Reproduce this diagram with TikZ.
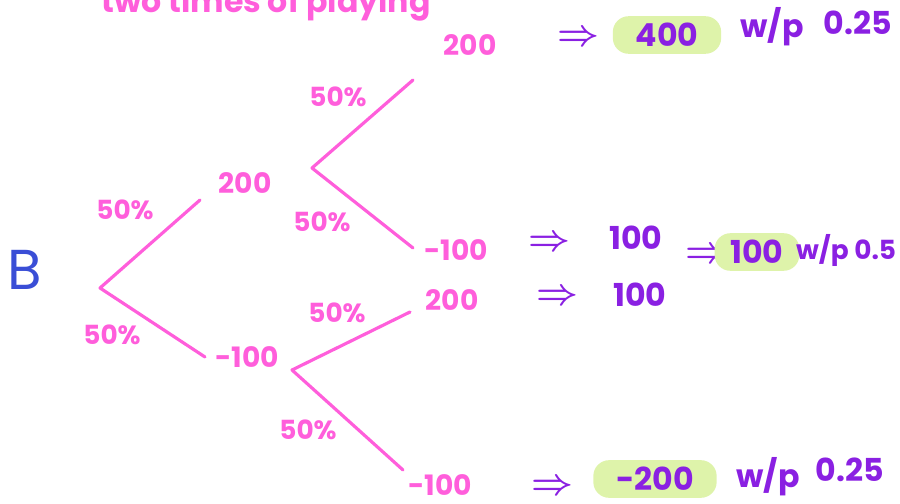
\documentclass[tikz,border=0pt]{standalone}
\usepackage{fontspec}
\setmainfont{Poppins}
\usepackage{xcolor}
\usetikzlibrary{positioning}
\definecolor{penpink}{RGB}{255,94,219}
\definecolor{penpurple}{RGB}{138,32,226}
\definecolor{penblue}{RGB}{58,78,214}
\definecolor{marker}{RGB}{222,243,170}

\begin{document}
\begin{tikzpicture}[
  x=0.02cm, y=-0.02cm,
  branch/.style={draw=penpink, line width=1.8pt, line cap=round, line join=round},
  prob/.style={text=penpink, font=\fontsize{15}{17}\selectfont\bfseries, inner sep=1pt},
  payoff/.style={text=penpink, font=\fontsize{16}{18}\selectfont\bfseries, inner sep=1pt},
  result/.style={text=penpurple, font=\fontsize{18}{20}\selectfont\bfseries, inner sep=1pt},
  implies/.style={text=penpurple, font=\fontsize{20}{22}\selectfont\boldmath, inner sep=1pt},
  hilite/.style={result, fill=marker, rounded corners=9pt, inner xsep=13pt, inner ysep=4pt},
]
  \useasboundingbox (0,0) rectangle (900,504);
  \clip (0,0) rectangle (900,504);

  % heading, cut off at the top
  \node[payoff, anchor=base, font=\fontsize{18}{20}\selectfont\bfseries] (title) at (266,12) {two times of playing};

  % tree
  \node[text=penblue, font=\fontsize{32}{34}\selectfont] (player) at (25,270) {B};
  \coordinate (root) at (100,288);
  \coordinate (up) at (200,200);
  \coordinate (down) at (205,357);
  \coordinate (upfork) at (312,168);
  \coordinate (upup) at (413,80);
  \coordinate (updown) at (413,248);
  \coordinate (downfork) at (292,370);
  \coordinate (downup) at (410,312);
  \coordinate (downdown) at (403,470);

  \draw[branch] (up) -- (root) -- (down);
  \draw[branch] (upup) -- (upfork) -- (updown);
  \draw[branch] (downup) -- (downfork) -- (downdown);

  \node[payoff] (p1) at (245,183) {200};
  \node[payoff] (p2) at (247,357) {-100};
  \node[payoff] (p11) at (470,45) {200};
  \node[payoff] (p12) at (456,250) {-100};
  \node[payoff] (p21) at (452,300) {200};
  \node[payoff] (p22) at (440,485) {-100};

  \node[prob] (q1) at (125,210) {50\%};
  \node[prob] (q2) at (112,335) {50\%};
  \node[prob] (q11) at (338,97) {50\%};
  \node[prob] (q12) at (322,222) {50\%};
  \node[prob] (q21) at (337,313) {50\%};
  \node[prob] (q22) at (308,430) {50\%};

  % outcomes
  \node[implies] (i1) at (578,38) {$\Rightarrow$};
  \node[hilite] (r1) at (667,35) {400};
  \node[result] (w1) at (772,27) {w/p};
  \node[result] (c1) at (858,23) {0.25};

  \node[implies] (i2) at (549,243) {$\Rightarrow$};
  \node[result] (r2) at (636,238) {100};
  \node[implies] (i3) at (557,297) {$\Rightarrow$};
  \node[result] (r3) at (640,295) {100};
  \node[implies] (i4) at (706,255) {$\Rightarrow$};
  \node[hilite, inner xsep=9pt] (r4) at (757,252) {100};
  \node[result, anchor=west, font=\fontsize{15}{17}\selectfont\bfseries] (w4) at (794,250) {w/p 0.5};

  \node[implies] (i5) at (552,487) {$\Rightarrow$};
  \node[hilite] (r5) at (655,479) {-200};
  \node[result] (w5) at (768,477) {w/p};
  \node[result] (c5) at (850,470) {0.25};
\end{tikzpicture}
\end{document}
